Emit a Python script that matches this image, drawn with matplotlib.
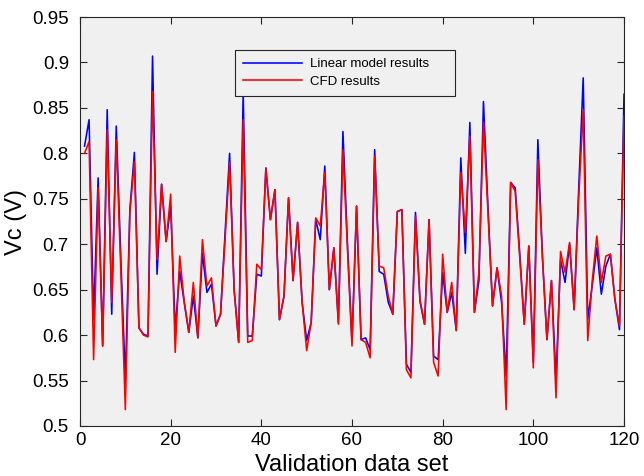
import matplotlib
matplotlib.use("Agg")
import matplotlib.pyplot as plt
import numpy as np

plt.rcParams['font.family'] = ['Liberation Sans', 'DejaVu Sans']

x_index = list(range(1, 121))

linear_model = [
    0.808, 0.837, 0.617, 0.773, 0.588, 0.848, 0.623, 0.830, 0.685, 0.551,
    0.738, 0.801, 0.608, 0.601, 0.599, 0.907, 0.667, 0.766, 0.703, 0.742,
    0.606, 0.670, 0.636, 0.603, 0.643, 0.597, 0.690, 0.647, 0.656, 0.610,
    0.623, 0.712, 0.800, 0.650, 0.592, 0.866, 0.599, 0.599, 0.667, 0.665,
    0.784, 0.727, 0.760, 0.617, 0.643, 0.751, 0.660, 0.724, 0.636, 0.594,
    0.614, 0.727, 0.705, 0.786, 0.650, 0.696, 0.614, 0.824, 0.700, 0.592,
    0.742, 0.595, 0.597, 0.584, 0.804, 0.670, 0.667, 0.636, 0.623, 0.736,
    0.738, 0.568, 0.559, 0.735, 0.637, 0.612, 0.727, 0.577, 0.573, 0.669,
    0.625, 0.647, 0.605, 0.795, 0.690, 0.834, 0.625, 0.660, 0.857, 0.740,
    0.632, 0.674, 0.636, 0.555, 0.768, 0.762, 0.690, 0.612, 0.698, 0.570,
    0.815, 0.687, 0.595, 0.660, 0.551, 0.683, 0.658, 0.700, 0.628, 0.760,
    0.883, 0.617, 0.655, 0.696, 0.645, 0.676, 0.689, 0.639, 0.606, 0.865,
]

cfd_results = [
    0.800, 0.813, 0.573, 0.762, 0.588, 0.826, 0.636, 0.815, 0.672, 0.518,
    0.735, 0.791, 0.608, 0.600, 0.598, 0.868, 0.683, 0.766, 0.703, 0.755,
    0.581, 0.687, 0.636, 0.603, 0.658, 0.597, 0.705, 0.654, 0.663, 0.610,
    0.623, 0.705, 0.790, 0.650, 0.592, 0.837, 0.592, 0.594, 0.678, 0.672,
    0.783, 0.727, 0.760, 0.617, 0.643, 0.751, 0.660, 0.724, 0.636, 0.583,
    0.614, 0.729, 0.720, 0.779, 0.650, 0.696, 0.612, 0.804, 0.695, 0.588,
    0.742, 0.595, 0.592, 0.575, 0.797, 0.676, 0.674, 0.643, 0.623, 0.736,
    0.738, 0.562, 0.553, 0.731, 0.639, 0.612, 0.727, 0.570, 0.555, 0.689,
    0.625, 0.658, 0.605, 0.779, 0.713, 0.819, 0.625, 0.669, 0.834, 0.735,
    0.632, 0.674, 0.643, 0.518, 0.768, 0.758, 0.685, 0.612, 0.698, 0.564,
    0.793, 0.687, 0.595, 0.660, 0.531, 0.692, 0.669, 0.702, 0.628, 0.750,
    0.848, 0.594, 0.660, 0.709, 0.658, 0.687, 0.689, 0.639, 0.610, 0.841,
]

y_ticks = [0.5, 0.55, 0.6, 0.65, 0.7, 0.75, 0.8, 0.85, 0.9, 0.95]
y_tick_labels = ['0.5', '0.55', '0.6', '0.65', '0.7', '0.75', '0.8', '0.85', '0.9', '0.95']
x_ticks = [0, 20, 40, 60, 80, 100, 120]
series_labels = ['Linear model results', 'CFD results']

fig = plt.figure(figsize=(6.44, 4.76), dpi=100)
fig.patch.set_facecolor('white')
ax = fig.add_axes([80/644, 1 - 426/476, (624 - 80)/644, (426 - 17)/476])
ax.set_facecolor('#f0f0f0')

ax.plot(x_index, linear_model, color='#0000ff', lw=1.15, label=series_labels[0])
ax.plot(x_index, cfd_results, color='#ff0000', lw=1.15, label=series_labels[1])

ax.set_xlim(0, 120)
ax.set_ylim(0.5, 0.95)
ax.set_xticks(x_ticks)
ax.set_xticklabels([str(t) for t in x_ticks])
ax.set_yticks(y_ticks)
ax.set_yticklabels(y_tick_labels)
ax.tick_params(direction='in', top=True, right=True, length=5, width=0.8,
               labelsize=13.5, colors='#262626', labelcolor='black')
ax.tick_params(axis='x', pad=4)
ax.tick_params(axis='y', pad=8)
for s in ax.spines.values():
    s.set_color('#262626')
    s.set_linewidth(0.8)

ax.set_xlabel('Validation data set', fontsize=17, labelpad=4)
ax.set_ylabel('Vc (V)', fontsize=17, labelpad=4)

leg = ax.legend(loc='upper left', bbox_to_anchor=(235/644, 1 - 93/476, 220/644, 43/476),
                bbox_transform=fig.transFigure, mode='expand', fontsize=9.5,
                frameon=True, fancybox=False, handlelength=4.5, handletextpad=0.6,
                borderpad=0.6, labelspacing=0.4, borderaxespad=0)
leg.get_frame().set_edgecolor('#262626')
leg.get_frame().set_linewidth(0.8)
leg.get_frame().set_facecolor('#f0f0f0')
leg.get_frame().set_alpha(1)

fig.savefig('out.png', dpi=100)
